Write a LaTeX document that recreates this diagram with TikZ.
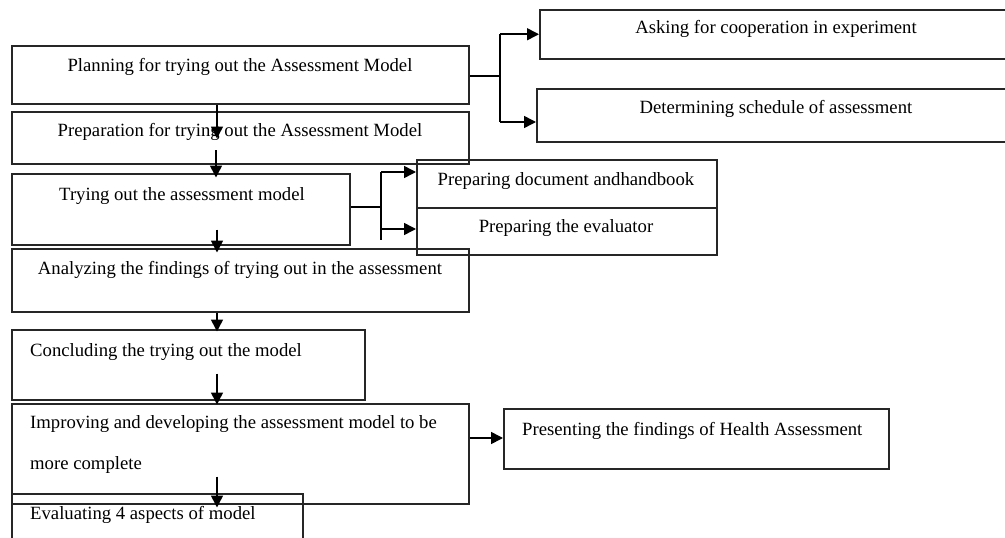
\documentclass[tikz,border=0pt]{standalone}
\usepackage{fontspec}
\setmainfont{Liberation Serif}
\usetikzlibrary{arrows.meta}
\begin{document}
\begin{tikzpicture}[x=1pt,y=-1pt,
  box/.style={draw=black!85,line width=1.5pt,inner sep=0pt,anchor=north west},
  txt/.style={inner sep=0pt,anchor=base,font=\fontsize{18.7}{22}\selectfont},
  ltxt/.style={txt,anchor=base west},
  arr/.style={line width=1.6pt,-{Triangle[length=12pt,width=12pt]}},
  ln/.style={line width=1.6pt}]
\useasboundingbox (0,0) rectangle (1005,538);
\clip (0,0) rectangle (1005,538);
% boxes
\node[box,minimum width=457pt,minimum height=58pt] (plan) at (11,45) {};
\node[box,minimum width=457pt,minimum height=52pt] (prep) at (11,111) {};
\node[box,minimum width=338pt,minimum height=71pt] (try) at (11,173) {};
\node[box,minimum width=457pt,minimum height=63pt] (anal) at (11,248) {};
\node[box,minimum width=353pt,minimum height=70pt] (conc) at (11,329) {};
\node[box,minimum width=457pt,minimum height=100pt] (impr) at (11,403) {};
\node[box,minimum width=291pt,minimum height=60pt] (eval) at (11,493) {};
\node[box,minimum width=480pt,minimum height=49pt] (ask) at (539,9) {};
\node[box,minimum width=480pt,minimum height=53pt] (sched) at (536,88) {};
\node[box,minimum width=300pt,minimum height=48pt] (doc) at (416,159) {};
\node[box,minimum width=300pt,minimum height=47pt] (evtr) at (416,207) {};
\node[box,minimum width=385pt,minimum height=60pt] (pres) at (503,408) {};
% texts
\node[txt] (tplan) at (240,71) {Planning for trying out the Assessment Model};
\node[txt] (tprep) at (240,136) {Preparation for trying out the Assessment Model};
\node[txt] (ttry) at (182,200) {Trying out the assessment model};
\node[txt] (tanal) at (240,274) {Analyzing the findings of trying out in the assessment};
\node[ltxt] (tconc) at (30,356) {Concluding the trying out the model};
\node[ltxt] (timpr) at (30,428) {Improving and developing the assessment model to be};
\node[ltxt] (timpr2) at (30,469) {more complete};
\node[ltxt] (teval) at (30,519) {Evaluating 4 aspects of model};
\node[txt] (task) at (776,34) {Asking for cooperation in experiment};
\node[txt] (tsched) at (776,113) {Determining schedule of assessment};
\node[txt] (tdoc) at (566,185) {Preparing document andhandbook};
\node[txt] (tevtr) at (566,232) {Preparing the evaluator};
\node[ltxt] (tpres) at (522,435) {Presenting the findings of Health Assessment};
% coordinates
\coordinate (cx) at (217,0);
\coordinate (b1) at (500,76);
\coordinate (b2) at (381,207);
% vertical chain
\draw[arr] (plan.south -| cx) -- ++(0,34);
\draw[arr] (216,150) -- (prep.south -| 216,0) -- ++(0,13);
\draw[arr] (try.south -| cx) ++(0,-16) -- ++(0,23);
\draw[arr] (anal.south -| cx) -- ++(0,19);
\draw[arr] (conc.south -| cx) ++(0,-27) -- ++(0,31);
\draw[arr] (impr.south -| cx) ++(0,-28) -- ++(0,31);
% branches
\draw[ln] (plan.east |- b1) -- (b1);
\draw[ln] (b1 |- ask.west) -- (b1 |- 0,122);
\draw[arr] (b1 |- ask.west) -- (ask.west);
\draw[arr] (b1 |- 0,122) -- (sched.west |- 0,122);
\draw[ln] (try.east |- b2) -- (b2);
\draw[ln] (b2 |- 0,172) -- (b2 |- 0,240);
\draw[arr] (b2 |- 0,172) -- (doc.west |- 0,172);
\draw[arr] (b2 |- 0,229) -- (evtr.west |- 0,229);
\draw[arr] (impr.east |- 0,438) -- (pres.west |- 0,438);
\end{tikzpicture}
\end{document}
